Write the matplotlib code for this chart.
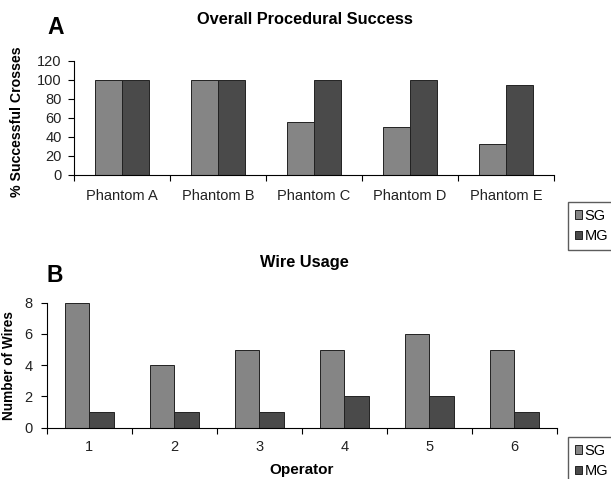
import matplotlib
matplotlib.use("Agg")
import matplotlib.pyplot as plt
import numpy as np

plt.rcParams['font.family'] = ['Liberation Sans', 'DejaVu Sans']

phantoms = ["Phantom A", "Phantom B", "Phantom C", "Phantom D", "Phantom E"]
success_sg = [100, 100, 56, 50, 33]
success_mg = [100, 100, 100, 100, 95]

operators = ["1", "2", "3", "4", "5", "6"]
wires_sg = [8, 4, 5, 5, 6, 5]
wires_mg = [1, 1, 1, 2, 2, 1]

series = ["SG", "MG"]
c_sg = "#858585"
c_mg = "#4a4a4a"

W, H = 611, 479
fig = plt.figure(figsize=(W / 100, H / 100), dpi=100)

def panel(rect, cats, sg, mg, ylim, yticks, ylabel, w, xpad, ypad, ylabelsize):
    ax = fig.add_axes(rect)
    x = np.arange(len(cats))
    ax.bar(x - w/2, sg, w, color=c_sg, edgecolor="#222222", linewidth=0.7, label=series[0])
    ax.bar(x + w/2, mg, w, color=c_mg, edgecolor="#222222", linewidth=0.7, label=series[1])
    ax.set_xlim(-0.5, len(cats) - 0.5)
    ax.set_ylim(*ylim)
    ax.set_yticks(yticks)
    ax.set_xticks(x)
    ax.set_xticklabels(cats, fontsize=10.5, color="#222222")
    ax.set_xticks(np.arange(len(cats) + 1) - 0.5, minor=True)
    ax.tick_params(axis='x', which='major', length=0, pad=xpad)
    ax.tick_params(axis='x', which='minor', length=4, direction='out', width=0.8)
    ax.tick_params(axis='y', length=4, direction='out', labelsize=10.5, width=0.8,
                   pad=ypad, labelcolor="#222222")
    for s in ['top', 'right']:
        ax.spines[s].set_visible(False)
    for s in ['left', 'bottom']:
        ax.spines[s].set_linewidth(0.8)
    ax.set_ylabel(ylabel, fontsize=ylabelsize, fontweight='bold')
    return ax

axA = panel([74/W, 1 - 175/H, 480/W, 114.3/H], phantoms, success_sg, success_mg,
            (0, 120), range(0, 121, 20), "% Successful Crosses", 0.28, 10, 5, 10.2)
axB = panel([46.7/W, 1 - 427.7/H, 510/W, 125/H], operators, wires_sg, wires_mg,
            (0, 8), range(0, 9, 2), "Number of Wires", 0.29, 9, 6, 9.8)
axB.set_xlabel("Operator", fontsize=11, fontweight='bold', labelpad=6)
axA.yaxis.set_label_coords((24 - 74) / 480, 0.47)
axB.yaxis.set_label_coords((16 - 46.7) / 510, 0.5)

fig.text(304.5/W, 1 - 20/H, "Overall Procedural Success", fontsize=11.8,
         fontweight='bold', ha='center', va='center')
fig.text(304.5/W, 1 - 263/H, "Wire Usage", fontsize=11.8,
         fontweight='bold', ha='center', va='center')
fig.text(47/W, 1 - 28/H, "A", fontsize=16.5, fontweight='bold', va='center', ha='left')
fig.text(47/W, 1 - 275/H, "B", fontsize=16.5, fontweight='bold', va='center', ha='left')

for ax, top in [(axA, 202), (axB, 437)]:
    h, l = ax.get_legend_handles_labels()
    fig.legend(h, l, loc='upper left', bbox_to_anchor=(568/W, 1 - top/H, 0.2, 0.0),
               mode='expand', frameon=True, fancybox=False, edgecolor='#333333',
               fontsize=10.5, handlelength=0.5, handleheight=0.5, handletextpad=0.2,
               borderpad=0.45, labelspacing=0.45, borderaxespad=0)

fig.savefig("out.png", dpi=100)
